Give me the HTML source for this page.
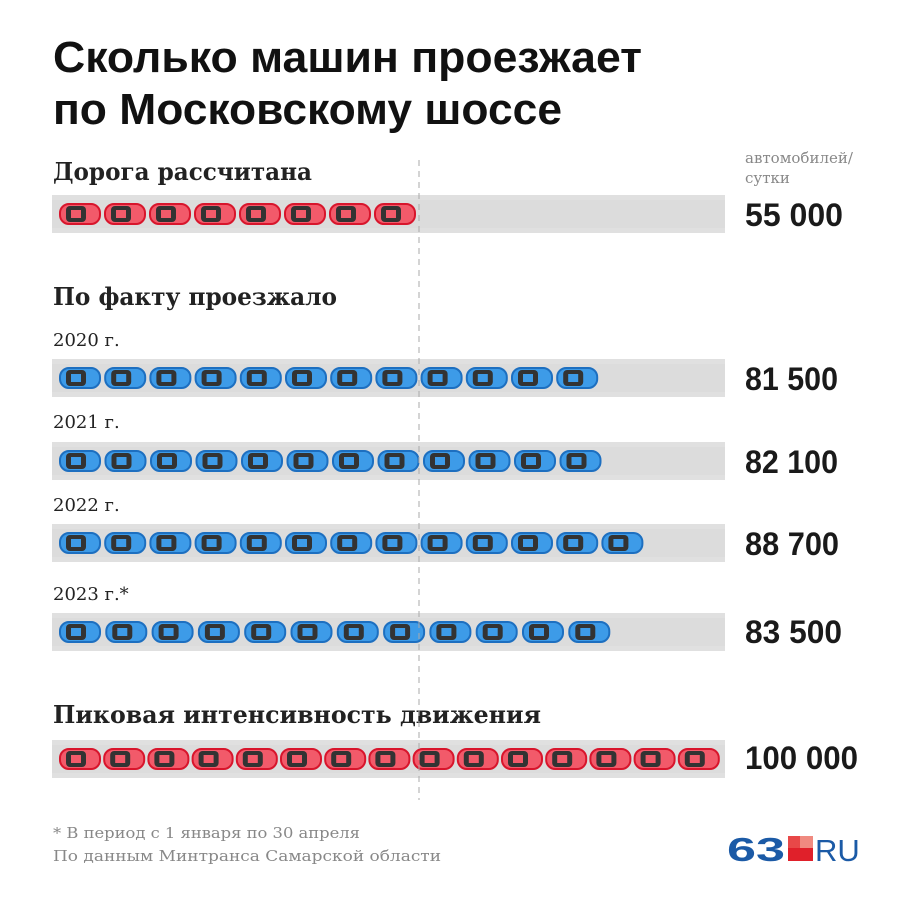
<!DOCTYPE html>
<html><head><meta charset="utf-8"><style>
body{margin:0;background:#fff;}
svg{display:block}
.t{font-family:"Liberation Sans",sans-serif;font-weight:bold;font-size:44px;fill:#111}
.h{font-family:"DejaVu Serif",serif;font-weight:bold;font-size:24px;fill:#222}
.y{font-family:"DejaVu Serif",serif;font-size:18px;fill:#222}
.n{font-family:"Liberation Sans",sans-serif;font-weight:bold;font-size:32px;fill:#1a1a1a}
.s{font-family:"DejaVu Serif",serif;font-size:15px;fill:#888}
</style></head><body>
<svg id="c" width="901" height="900" xmlns="http://www.w3.org/2000/svg">
<text class="t" x="53" y="72" textLength="589" lengthAdjust="spacingAndGlyphs">Сколько машин проезжает</text>
<text class="t" x="53" y="124" textLength="509" lengthAdjust="spacingAndGlyphs">по Московскому шоссе</text>
<text class="h" x="53" y="180" textLength="259" lengthAdjust="spacingAndGlyphs">Дорога рассчитана</text>
<text class="s" x="745" y="163">автомобилей/</text>
<text class="s" x="745" y="183">сутки</text>
<text class="h" x="53" y="305" textLength="284" lengthAdjust="spacingAndGlyphs">По факту проезжало</text>
<text class="y" x="53" y="346">2020 г.</text>
<text class="y" x="53" y="428">2021 г.</text>
<text class="y" x="53" y="511">2022 г.</text>
<text class="y" x="53" y="600">2023 г.*</text>
<text class="h" x="53" y="723" textLength="488" lengthAdjust="spacingAndGlyphs">Пиковая интенсивность движения</text>
<text class="n" x="745" y="226" textLength="98" lengthAdjust="spacingAndGlyphs">55 000</text>
<text class="n" x="745" y="390" textLength="93" lengthAdjust="spacingAndGlyphs">81 500</text>
<text class="n" x="745" y="473" textLength="93" lengthAdjust="spacingAndGlyphs">82 100</text>
<text class="n" x="745" y="555" textLength="94" lengthAdjust="spacingAndGlyphs">88 700</text>
<text class="n" x="745" y="643" textLength="97" lengthAdjust="spacingAndGlyphs">83 500</text>
<text class="n" x="745" y="769" textLength="113" lengthAdjust="spacingAndGlyphs">100 000</text>
<text class="s" x="53" y="838" textLength="307" lengthAdjust="spacingAndGlyphs">* В период с 1 января по 30 апреля</text>
<text class="s" x="53" y="861" textLength="388" lengthAdjust="spacingAndGlyphs">По данным Минтранса Самарской области</text>
<text x="727" y="861" textLength="58" lengthAdjust="spacingAndGlyphs" style="font-family:'Liberation Sans',sans-serif;font-weight:bold;font-size:33px;fill:#1b5aa6">63</text>
<rect x="788" y="836" width="25" height="25" fill="#e0202a"/>
<rect x="800" y="836" width="13" height="12" fill="#f08a80"/>
<rect x="788" y="836" width="12" height="12" fill="#e84848"/>
<text x="815" y="861" style="font-family:'Liberation Sans',sans-serif;font-size:31px;fill:#1b5aa6">RU</text>
<g id="bars"></g>
<line x1="419" y1="160" x2="419" y2="800" stroke="#aaa" stroke-width="1" stroke-dasharray="6,5"/>
</svg>
<script>
var g=document.getElementById('bars'),h='';
var rows=[[214,8,60,45,'r'],[378,12,60,45.2,'b'],[461,12,60,45.5,'b'],[543,13,60,45.2,'b'],[632,12,60,46.3,'b'],[759,15,60,44.2,'r']];
rows.forEach(function(r){
 h+='<rect x="52" y="'+(r[0]-19)+'" width="673" height="38" fill="#e0e0e0"/>';
 h+='<rect x="52" y="'+(r[0]-14)+'" width="673" height="28" fill="#dcdcdc"/>';
 var body=r[4]=='r'?'#f25a6a':'#3d9be8',ed=r[4]=='r'?'#d8152c':'#1d6fc0';
 for(var i=0;i<r[1];i++){var x=r[2]+i*r[3],y=r[0];
  h+='<rect x="'+x+'" y="'+(y-10)+'" width="40" height="20" rx="9" fill="'+body+'" stroke="'+ed+'" stroke-width="2"/>';
  h+='<rect x="'+(x+6)+'" y="'+(y-8)+'" width="20" height="16" rx="4" fill="#333"/>';
  h+='<rect x="'+(x+11)+'" y="'+(y-4)+'" width="10" height="8" fill="'+body+'"/>';
 }
});
g.innerHTML=h;
</script>
</body></html>
